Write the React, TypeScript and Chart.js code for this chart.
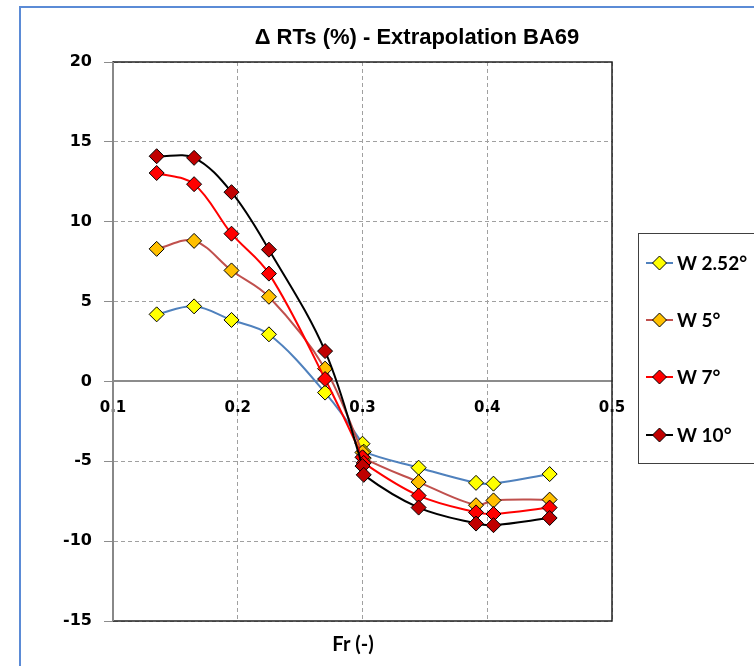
import React, { useEffect, useRef } from "react";
import { Chart, registerables } from "chart.js";

Chart.register(...registerables);

// Froude numbers shared by all four heel-angle series
const frValues = [0.135, 0.165, 0.195, 0.225, 0.27, 0.3, 0.301, 0.345, 0.391, 0.405, 0.45];

// Δ RTs (%) for each heel angle
const w252 = [4.2, 4.7, 3.85, 2.95, -0.7, -3.9, -4.4, -5.4, -6.35, -6.4, -5.8];
const w5 = [8.3, 8.8, 6.95, 5.3, 0.8, -4.45, -4.8, -6.3, -7.75, -7.45, -7.4];
const w7 = [13.05, 12.35, 9.25, 6.75, 0.15, -4.75, -5.1, -7.15, -8.2, -8.3, -7.9];
const w10 = [14.1, 14.0, 11.85, 8.25, 1.9, -5.3, -5.85, -7.9, -8.9, -9.0, -8.55];

const seriesLabels = ["W 2.52°", "W 5°", "W 7°", "W 10°"];
const seriesValues = [w252, w5, w7, w10];
const lineColors = ["#4F81BD", "#C0504D", "#FF0000", "#000000"];
const markerColors = ["#FFFF00", "#FFC000", "#FF0000", "#C00000"];

const chartTitle = "\u0394 RTs (%) - Extrapolation BA69";
const xTitle = "Fr (-)";

const W = 754;
const H = 666;

const decorPlugin = {
  id: "decor",
  beforeDraw(chart: any) {
    const { ctx } = chart;
    ctx.save();
    ctx.fillStyle = "#ffffff";
    ctx.fillRect(0, 0, W, H);
    // outer chart frame
    ctx.strokeStyle = "#5B8BD6";
    ctx.lineWidth = 2;
    ctx.beginPath();
    ctx.moveTo(20, H + 2);
    ctx.lineTo(20, 7);
    ctx.lineTo(W + 2, 7);
    ctx.stroke();
    ctx.restore();
  },
  beforeDatasetsDraw(chart: any) {
    const { ctx, chartArea } = chart;
    const { left, right, top, bottom } = chartArea;
    ctx.save();
    ctx.strokeStyle = "#222222";
    ctx.lineWidth = 1.5;
    ctx.beginPath();
    ctx.moveTo(left, top);
    ctx.lineTo(right, top);
    ctx.lineTo(right, bottom);
    ctx.lineTo(left, bottom);
    ctx.stroke();
    ctx.strokeStyle = "#888888";
    ctx.lineWidth = 2;
    ctx.beginPath();
    ctx.moveTo(left, top);
    ctx.lineTo(left, bottom);
    ctx.stroke();
    ctx.restore();
  },
  afterDraw(chart: any) {
    const { ctx } = chart;
    ctx.save();
    ctx.fillStyle = "#000000";
    ctx.textAlign = "center";
    ctx.textBaseline = "middle";
    ctx.font = "bold 22px 'Liberation Sans Narrow', 'Liberation Sans', Arial, sans-serif";
    ctx.fillText(chartTitle, 417, 38);
    ctx.font = "bold 20px Lato, 'Open Sans', sans-serif";
    ctx.fillText(xTitle, 353, 645);

    // legend box
    ctx.strokeStyle = "#404040";
    ctx.lineWidth = 1;
    ctx.strokeRect(638.5, 233.5, 140, 230);
    const rows = [263, 320, 377, 435];
    seriesLabels.forEach((label, i) => {
      const y = rows[i];
      ctx.strokeStyle = lineColors[i];
      ctx.lineWidth = 2;
      ctx.beginPath();
      ctx.moveTo(646, y);
      ctx.lineTo(673, y);
      ctx.stroke();
      const r = 7;
      ctx.beginPath();
      ctx.moveTo(659.5, y - r);
      ctx.lineTo(659.5 + r, y);
      ctx.lineTo(659.5, y + r);
      ctx.lineTo(659.5 - r, y);
      ctx.closePath();
      ctx.fillStyle = markerColors[i];
      ctx.fill();
      ctx.strokeStyle = "#000000";
      ctx.lineWidth = 1;
      ctx.stroke();
      ctx.fillStyle = "#000000";
      ctx.textAlign = "left";
      ctx.font = "bold 19px Lato, 'Open Sans', sans-serif";
      ctx.fillText(label, 677, y + 1);
    });
    ctx.restore();
  },
};

export default function App() {
  const canvasRef = useRef<HTMLCanvasElement | null>(null);

  useEffect(() => {
    const canvas = canvasRef.current;
    if (!canvas) return;
    const datasets = seriesValues.map((vals, i) => ({
      label: seriesLabels[i],
      data: vals.map((y, k) => ({ x: frValues[k], y })),
      showLine: true,
      borderColor: lineColors[i],
      borderWidth: 2,
      backgroundColor: markerColors[i],
      pointStyle: "rectRot",
      pointRadius: 7.5,
      pointBorderColor: "#000000",
      pointBackgroundColor: markerColors[i],
      pointBorderWidth: 1,
      tension: 0.35,
      order: seriesValues.length - i,
    }));

    const chart = new Chart(canvas, {
      type: "scatter",
      data: { datasets },
      options: {
        responsive: false,
        animation: false,
        devicePixelRatio: 1,
        layout: { padding: { left: 0, top: 62, right: 142, bottom: 45 } },
        plugins: {
          legend: { display: false },
          title: { display: false },
          tooltip: { enabled: false },
        },
        scales: {
          x: {
            type: "linear",
            position: { y: 0 },
            min: 0.1,
            max: 0.5,
            ticks: {
              stepSize: 0.1,
              padding: 18,
              color: "#000000",
              font: { family: "'DejaVu Sans', Verdana, sans-serif", size: 15, weight: "bold" },
              callback: (v: any) => Number(v).toFixed(1),
            },
            grid: {
              color: "#a0a0a0",
              lineWidth: 1,
              drawTicks: false,
            },
            border: { display: true, color: "#8c8c8c", width: 2, dash: [4, 3] },
          },
          y: {
            type: "linear",
            min: -15,
            max: 20,
            afterFit: (scale: any) => {
              scale.width = 113;
            },
            ticks: {
              stepSize: 5,
              padding: 12,
              color: "#000000",
              font: { family: "'DejaVu Sans', Verdana, sans-serif", size: 16, weight: "bold" },
            },
            grid: {
              color: "#a0a0a0",
              lineWidth: 1,
              tickLength: 9,
              tickColor: "#8c8c8c",
              tickBorderDash: [],
            },
            border: { display: true, color: "#8c8c8c", width: 2, dash: [4, 3] },
          },
        },
      },
      plugins: [decorPlugin],
    } as any);

    return () => chart.destroy();
  }, []);

  return (
    <div style={{ position: "absolute", left: 0, top: 0, width: W, height: H, background: "#fff" }}>
      <canvas ref={canvasRef} width={W} height={H} style={{ display: "block" }} />
    </div>
  );
}
